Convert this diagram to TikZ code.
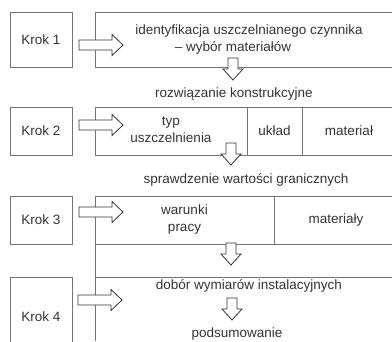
\documentclass[tikz,border=0pt]{standalone}
\usepackage{fontspec}
\setmainfont{Liberation Sans}

\tikzset{
  frame/.style={draw=black!55, line width=0.8pt},
  krokbox/.style={frame, minimum width=62, minimum height=55, inner sep=0pt,
    text=black!80, font=\fontsize{13.5}{17}\selectfont},
  lbl/.style={text=black!80, font=\fontsize{13.5}{17}\selectfont, inner sep=0pt, align=center},
  hollow/.style={draw=black!80, fill=white, line width=0.8pt, line join=miter},
  pics/rarrow/.style={code={
    \draw[hollow] (0,-5) -- (33,-5) -- (33,-10.5) -- (44,0) -- (33,10.5) -- (33,5) -- (0,5) -- cycle;}},
  pics/darrow/.style={code={
    \draw[hollow] (-5,0) -- (5,0) -- (5,11) -- (10,11) -- (0,22) -- (-10,11) -- (-5,11) -- cycle;}}
}

\begin{document}
\begin{tikzpicture}[x=1pt,y=-1pt]
        \useasboundingbox (0,0) rectangle (392,341);
        \clip (0,0) rectangle (392,341);

        % Krok boxes
        \node[krokbox] (krok1) at (41,39.5) {Krok 1};
        \node[krokbox, minimum height=48] (krok2) at (41,131) {Krok 2};
        \node[krokbox, minimum height=48] (krok3) at (41,220) {Krok 3};
        \node[krokbox, minimum height=80] (krok4) at (41,317) {Krok 4};

        % row 1
        \draw[frame] (392,12) -- (95,12) -- (95,67) -- (392,67);
        % row 2
        \draw[frame] (392,107) -- (95,107) -- (95,155) -- (392,155);
        \draw[frame] (247,107) -- (247,155);
        \draw[frame] (302,107) -- (302,155);
        % row 3 and 4, one left line
        \draw[frame] (392,196) -- (95,196) -- (95,341);
        \draw[frame] (95,244) -- (392,244);
        \draw[frame] (274,196) -- (274,244);
        \draw[frame] (95,277) -- (392,277);

        % arrows to the right
        \pic at (79,45) {rarrow};
        \pic at (79,125) {rarrow};
        \pic at (79,212) {rarrow};
        \pic at (78,300) {rarrow};

        % arrows down
        \pic at (233,58) {darrow};
        \pic at (231,143) {darrow};
        \pic at (231,243) {darrow};
        \pic at (232,298) {darrow};

        % texts
        \node[lbl] (ident) at (249,31) {identyfikacja uszczelnianego czynnika};
        \node[lbl] (wybor) at (233,48) {– wybór materiałów};
        \node[lbl] (rozw) at (234,94) {rozwiązanie konstrukcyjne};
        \node[lbl] (typ) at (171,130) {typ\\uszczelnienia};
        \node[lbl] (uklad) at (274.5,131) {układ};
        \node[lbl] (mat2) at (349,131) {materiał};
        \node[lbl] (spraw) at (246,180) {sprawdzenie wartości granicznych};
        \node[lbl] (warunki) at (184.5,220) {warunki\\pracy};
        \node[lbl] (mat3) at (336,220) {materiały};
        \node[lbl] (dobor) at (249,286) {dobór wymiarów instalacyjnych};
        \node[lbl] (podsum) at (237,334) {podsumowanie};
\end{tikzpicture}
\end{document}
